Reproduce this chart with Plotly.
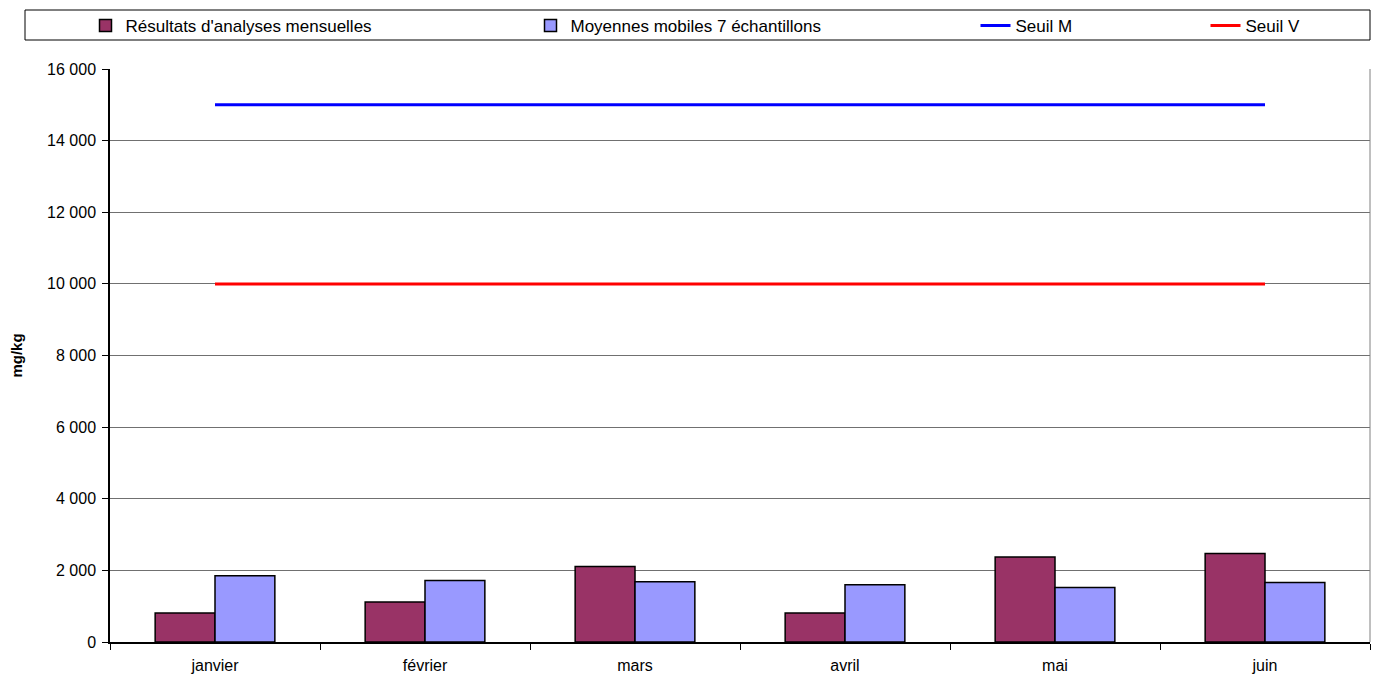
import plotly.graph_objects as go

months = ["janvier", "février", "mars", "avril", "mai", "juin"]
resultats = [810, 1120, 2110, 810, 2370, 2470]
moyennes = [1850, 1720, 1680, 1600, 1520, 1660]
seuil_m = [15000] * 6
seuil_v = [10000] * 6
y_ticks = [0, 2000, 4000, 6000, 8000, 10000, 12000, 14000, 16000]

FONT = "Liberation Sans, Arial, sans-serif"

fig = go.Figure()
fig.add_trace(go.Bar(x=months, y=resultats, name="Résultats d'analyses mensuelles",
                     marker=dict(color="#993366", line=dict(color="black", width=1.5)),
                     legend="legend"))
fig.add_trace(go.Bar(x=months, y=moyennes, name="Moyennes mobiles 7 échantillons",
                     marker=dict(color="#9999FF", line=dict(color="black", width=1.5)),
                     legend="legend2"))
fig.add_trace(go.Scatter(x=months, y=seuil_m, name="Seuil M", mode="lines",
                         line=dict(color="#0000FF", width=3), legend="legend3"))
fig.add_trace(go.Scatter(x=months, y=seuil_v, name="Seuil V", mode="lines",
                         line=dict(color="#FF0000", width=3), legend="legend4"))

# page has an 8px body margin; compensate so the plot area sits at x 110-1370, y 69-642
PW, PH = 1260, 573
LEFT, TOP = 110, 69
LY = (642 - 8) / PH


def leg(text_x):
    return dict(orientation="h", x=(text_x - 42.5 - LEFT) / PW, xanchor="left",
                y=LY, yanchor="top", font=dict(size=17), bgcolor="rgba(0,0,0,0)")


fig.update_layout(
    width=1371, height=668,
    margin=dict(l=102, r=9, t=61, b=34, autoexpand=False),
    paper_bgcolor="white", plot_bgcolor="white",
    font=dict(family=FONT, size=13, color="black"),
    separators=", ",
    barmode="group", bargap=0.43, bargroupgap=0,
    showlegend=True,
    legend=leg(128),
    legend2=leg(573),
    legend3=leg(1018),
    legend4=leg(1248),
    shapes=[dict(type="rect", xref="paper", yref="paper",
                 x0=(25 - LEFT) / PW, x1=(1370 - LEFT) / PW,
                 y0=(642 - 40) / PH, y1=(642 - 10) / PH,
                 line=dict(color="black", width=1), fillcolor="rgba(0,0,0,0)")],
)

fig.update_xaxes(type="category", showline=True, linecolor="black", linewidth=1.5,
                 ticks="outside", tickson="boundaries", ticklen=6, tickcolor="black",
                 showgrid=False, tickfont=dict(size=16), mirror=False, automargin=False,
                 ticklabelstandoff=8)
fig.update_yaxes(range=[0, 16000], tickvals=y_ticks, tickformat=",d",
                 showline=True, linecolor="black", linewidth=1.5,
                 ticks="outside", ticklen=6, tickcolor="black",
                 showgrid=True, gridcolor="#707070", gridwidth=1,
                 tickfont=dict(size=16), automargin=False, ticklabelstandoff=3,
                 title=dict(text="<b>mg/kg</b>", font=dict(size=15), standoff=30),
                 zeroline=False)

# right border of plot area
fig.add_shape(type="line", xref="paper", yref="paper", x0=1, x1=1, y0=0, y1=1,
              line=dict(color="#808080", width=1))

fig.write_html("out.html")
